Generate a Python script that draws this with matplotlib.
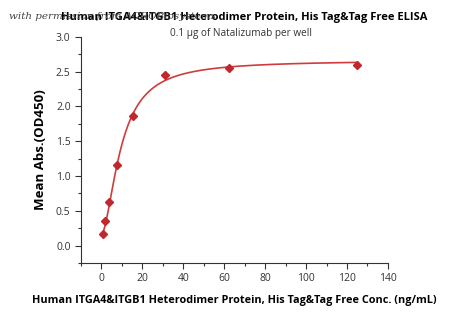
import numpy as np
import matplotlib.pyplot as plt
from matplotlib.ticker import MultipleLocator

# ELISA data
conc = [0.98, 1.95, 3.9, 7.8, 15.6, 31.25, 62.5, 125.0]
od450 = [0.16, 0.35, 0.63, 1.16, 1.87, 2.46, 2.56, 2.60]

title = "Human ITGA4&ITGB1 Heterodimer Protein, His Tag&Tag Free ELISA"
subtitle = "0.1 \u03bcg of Natalizumab per well"
xlabel = "Human ITGA4&ITGB1 Heterodimer Protein, His Tag&Tag Free Conc. (ng/mL)"
ylabel = "Mean Abs.(OD450)"

plt.rcParams['font.family'] = ['Open Sans', 'DejaVu Sans']

x = np.array(conc)
y = np.array(od450)


# 4PL fit: grid over EC50 / hill, bottom & top by linear least squares
def fit4pl(x, y):
    best = None
    for c in np.linspace(2, 30, 281):
        for b in np.linspace(0.6, 3.0, 241):
            r = (x / c) ** b
            f = r / (1 + r)
            A = np.vstack([np.ones_like(f), f]).T
            coef, *_ = np.linalg.lstsq(A, y, rcond=None)
            err = np.sum((A @ coef - y) ** 2)
            if best is None or err < best[0]:
                best = (err, c, b, coef)
    return best[1:]


c, b, coef = fit4pl(x, y)
xs = np.linspace(x.min(), x.max(), 400)
rs = (xs / c) ** b
ys = coef[0] + coef[1] * rs / (1 + rs)

fig = plt.figure(figsize=(4.5, 3.16), dpi=100)
ax = fig.add_axes([0.18, 0.168, 0.682, 0.715])

ax.plot(xs, ys, color='#d03c3c', lw=1.2)
ax.plot(x, y, 'D', color='#c0282d', ms=4.2, mec='#c0282d')

ax.set_xlim(-10, 140)
ax.set_ylim(-0.25, 3.0)
ax.xaxis.set_major_locator(MultipleLocator(20))
ax.xaxis.set_minor_locator(MultipleLocator(10))
ax.yaxis.set_minor_locator(MultipleLocator(0.25))
ax.set_yticks(np.arange(0, 3.01, 0.5))
ax.set_yticklabels(['%.1f' % v for v in np.arange(0, 3.01, 0.5)])
ax.spines['top'].set_visible(False)
ax.spines['right'].set_visible(False)
ax.tick_params(which='major', length=4, width=0.8, labelsize=7.5, colors='#333333', labelcolor='#333333')
ax.tick_params(which='minor', length=2, width=0.8, colors='#333333')
for s in ax.spines.values():
    s.set_color('#333333')
    s.set_linewidth(0.8)

ax.set_xlabel(xlabel, fontsize=7.8, fontweight='bold', labelpad=8)
ax.set_ylabel(ylabel, fontsize=9.5, fontweight='bold', labelpad=6)

fig.text(0.542, 0.945, title, ha='center', va='center', fontsize=8, fontweight='bold')
fig.text(0.535, 0.893, subtitle, ha='center', va='center', fontsize=7.2, color='#333333')
fig.text(0.02, 0.947, "with permission from ACROBiosystems", ha='left', va='center',
         fontsize=7.5, style='italic', family='DejaVu Serif', color='#444444')

fig.savefig('out.png', dpi=100)
